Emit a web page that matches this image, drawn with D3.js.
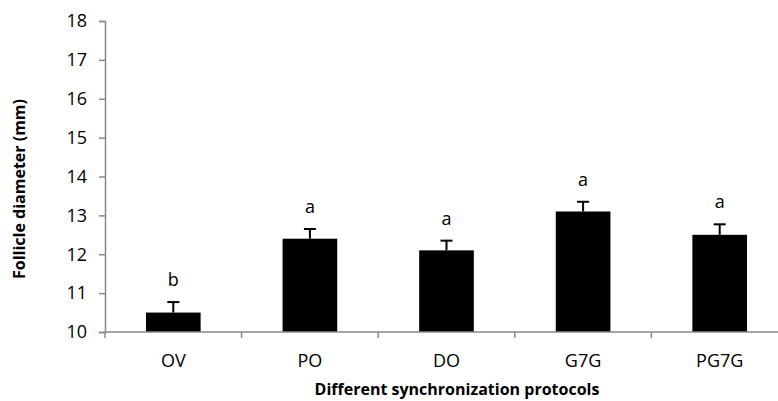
<!DOCTYPE html>
<html>
<head>
<meta charset="utf-8">
<script src="https://cdn.jsdelivr.net/npm/d3@7"></script>
<style>
  html, body { margin: 0; padding: 0; background: #fff; }
  svg { display: block; }
  text { font-family: "Open Sans", sans-serif; }
</style>
</head>
<body>
<svg id="chart" width="778" height="401"></svg>
<script>
const categories = ["OV", "PO", "DO", "G7G", "PG7G"];
const means = [10.5, 12.4, 12.1, 13.1, 12.5];
const errors = [0.27, 0.25, 0.25, 0.25, 0.27];
const letters = ["b", "a", "a", "a", "a"];
const yTicks = [10, 11, 12, 13, 14, 15, 16, 17, 18];

(function () {
const svg = d3.select("#chart");
const mLeft = 105, mRight = 788, mTop = 21, mBottom = 332;

const x = d3.scaleBand().domain(categories).range([mLeft, mRight])
  .paddingInner(0.6).paddingOuter(0.3);
const y = d3.scaleLinear().domain([10, 18]).range([mBottom, mTop]);

// Y axis
const yAxis = svg.append("g").attr("transform", `translate(${mLeft},0)`)
  .call(d3.axisLeft(y).tickValues(yTicks).tickSize(6).tickPadding(12).tickFormat(d3.format("d")));
yAxis.select(".domain").attr("stroke", "#898989").attr("stroke-width", 1.5);
yAxis.selectAll(".tick line").attr("stroke", "#898989").attr("stroke-width", 1.5);
yAxis.selectAll(".tick text").attr("font-size", 18).attr("fill", "#000")
  .attr("font-family", "Open Sans, sans-serif");

// Bars
svg.append("g").selectAll("rect").data(categories).join("rect")
  .attr("x", d => x(d))
  .attr("y", (d, i) => y(means[i]))
  .attr("width", x.bandwidth())
  .attr("height", (d, i) => y(10) - y(means[i]))
  .attr("fill", "#000");

// X axis line
svg.append("line").attr("x1", mLeft).attr("x2", mRight).attr("y1", mBottom).attr("y2", mBottom)
  .attr("stroke", "#898989").attr("stroke-width", 1.5);
// Boundary ticks
const step = x.step();
const boundaries = categories.map(c => x(c) - step * x.paddingInner() / 2).concat([mRight]);
svg.append("g").selectAll("line").data(boundaries).join("line")
  .attr("x1", d => d).attr("x2", d => d)
  .attr("y1", mBottom).attr("y2", mBottom + 6)
  .attr("stroke", "#898989").attr("stroke-width", 1.5);

// Category labels
svg.append("g").selectAll("text").data(categories).join("text")
  .attr("x", d => x(d) + x.bandwidth() / 2)
  .attr("y", mBottom + 35)
  .attr("text-anchor", "middle")
  .attr("font-size", 18)
  .attr("fill", "#000")
  .text(d => d);

// Error bars (upper only)
const eb = svg.append("g").attr("stroke", "#000").attr("stroke-width", 2);
categories.forEach((c, i) => {
  const cx = x(c) + x.bandwidth() / 2;
  eb.append("line").attr("x1", cx).attr("x2", cx)
    .attr("y1", y(means[i])).attr("y2", y(means[i] + errors[i]));
  eb.append("line").attr("x1", cx - 6).attr("x2", cx + 6)
    .attr("y1", y(means[i] + errors[i])).attr("y2", y(means[i] + errors[i]));
});

// Significance letters
svg.append("g").selectAll("text").data(categories).join("text")
  .attr("x", d => x(d) + x.bandwidth() / 2)
  .attr("y", (d, i) => y(means[i] + errors[i]) - 16)
  .attr("text-anchor", "middle")
  .attr("font-size", 18)
  .attr("fill", "#000")
  .text((d, i) => letters[i]);

// Axis titles
svg.append("text")
  .attr("transform", `translate(25,189) rotate(-90)`)
  .attr("text-anchor", "middle")
  .attr("font-size", 16)
  .attr("font-weight", "bold")
  .attr("fill", "#000")
  .text("Follicle diameter (mm)");

svg.append("text")
  .attr("x", 457).attr("y", 395)
  .attr("text-anchor", "middle")
  .attr("font-size", 16)
  .attr("font-weight", "bold")
  .attr("fill", "#000")
  .text("Different synchronization protocols");
})();
</script>
</body>
</html>
